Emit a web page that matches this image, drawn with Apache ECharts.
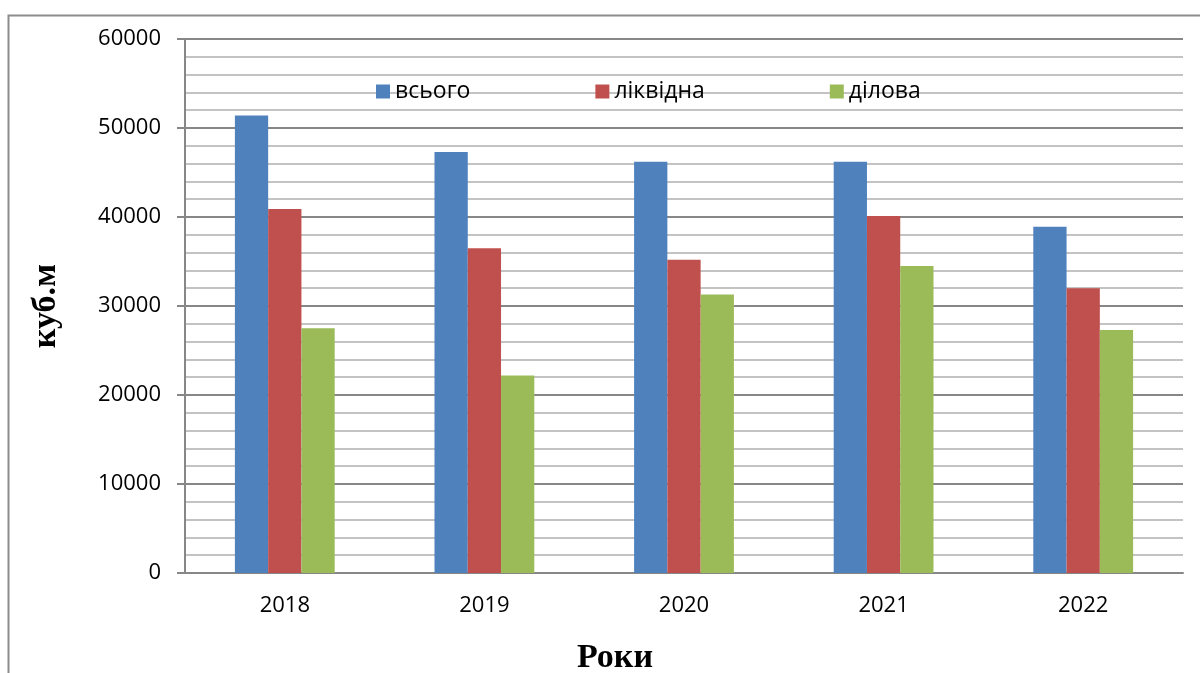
<!DOCTYPE html>
<html><head><meta charset="utf-8">
<script src="https://cdn.jsdelivr.net/npm/echarts@6/dist/echarts.min.js"></script>
<style>html,body{margin:0;padding:0;background:#fff}#c{width:1200px;height:673px}</style>
</head><body><div id="c"></div>
<script>
const categories = ['2018', '2019', '2020', '2021', '2022'];
const totalValues = [51400, 47300, 46200, 46200, 38900];
const liquidValues = [40900, 36500, 35200, 40100, 32000];
const businessValues = [27500, 22200, 31300, 34500, 27300];
const seriesNames = ['всього', 'ліквідна', 'ділова'];

const chart = echarts.init(document.getElementById('c'));
const font = '"Open Sans", "Noto Sans", sans-serif';
chart.setOption({
  animation: false,
  color: ['#4F81BD', '#C0504D', '#9BBB59'],
  graphic: [{
    type: 'rect', shape: {x: 8.5, y: 15.5, width: 1400, height: 900},
    style: {fill: 'none', stroke: '#8c8c8c', lineWidth: 2}, silent: true, z: -10
  }],
  grid: {left: 185, right: 17, top: 39, bottom: 100, outerBoundsMode: 'none', containLabel: false},
  legend: {
    left: 371, top: 75, itemWidth: 14, itemHeight: 14, itemGap: 125,
    icon: 'rect',
    textStyle: {fontFamily: font, fontSize: 23, color: '#000'},
    data: seriesNames
  },
  xAxis: {
    type: 'category', data: categories,
    axisLine: {lineStyle: {color: '#878787', width: 2}},
    axisTick: {show: false},
    axisLabel: {color: '#000', fontFamily: font, fontSize: 22, margin: 22},
    name: 'Роки', nameLocation: 'middle', nameGap: 68,
    nameTextStyle: {fontFamily: '"Liberation Serif", serif', fontWeight: 'bold', fontSize: 34, color: '#000', padding: [0, 138, 0, 0]}
  },
  yAxis: {
    type: 'value', min: 0, max: 60000, interval: 10000,
    axisLine: {show: true, lineStyle: {color: '#878787', width: 2}},
    axisTick: {show: true, length: 8, lineStyle: {color: '#878787', width: 2}},
    axisLabel: {color: '#000', fontFamily: font, fontSize: 22, margin: 24, formatter: v => String(v)},
    splitLine: {lineStyle: {color: '#878787', width: 2}},
    minorTick: {show: false, splitNumber: 5},
    minorSplitLine: {show: true, lineStyle: {color: '#c3c3c3', width: 2}},
    name: 'куб.м', nameLocation: 'middle', nameGap: 122, nameRotate: 90,
    nameTextStyle: {fontFamily: '"Liberation Serif", serif', fontWeight: 'bold', fontSize: 34, color: '#000'}
  },
  series: [
    {name: seriesNames[0], type: 'bar', data: totalValues, barGap: '0%', barCategoryGap: '50%'},
    {name: seriesNames[1], type: 'bar', data: liquidValues, barGap: '0%', barCategoryGap: '50%'},
    {name: seriesNames[2], type: 'bar', data: businessValues, barGap: '0%', barCategoryGap: '50%'}
  ]
});
</script></body></html>
